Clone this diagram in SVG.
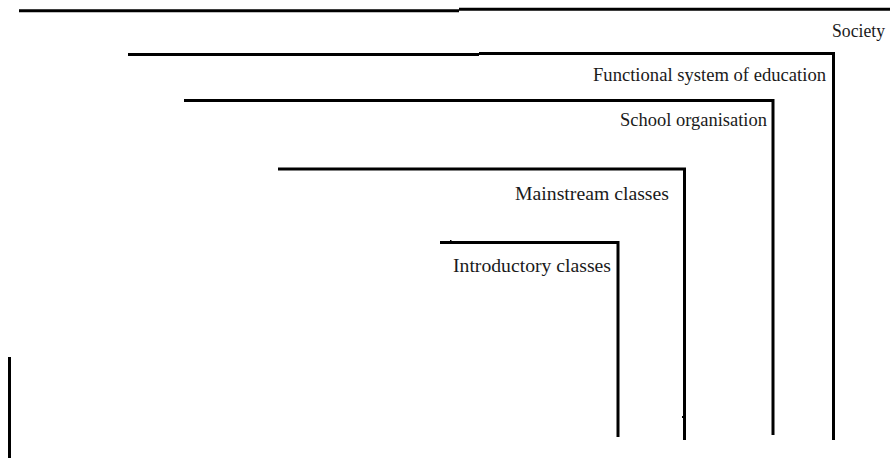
<svg xmlns="http://www.w3.org/2000/svg" width="890" height="458" viewBox="0 0 890 458">
<style>
.ln{fill:none;stroke:#000;stroke-width:3;stroke-linecap:butt;stroke-linejoin:miter}
.lb{font-family:"Liberation Serif","DejaVu Serif",serif;font-size:18.5px;fill:#1a1a1a;text-anchor:end}
</style>
<rect width="890" height="458" fill="#fff"/>
<g id="society">
<path class="ln" d="M19 10.8H459M459 9.3H890"/>
<text class="lb" x="885" y="37" textLength="53" lengthAdjust="spacingAndGlyphs">Society</text>
</g>
<g id="functional-system">
<path class="ln" d="M128 54.5H479M479 53.5H833.5V440"/>
<text class="lb" x="826" y="81" textLength="233" lengthAdjust="spacingAndGlyphs">Functional system of education</text>
</g>
<g id="school-organisation">
<path class="ln" d="M184 100.5H773V435"/>
<text class="lb" x="767" y="126" textLength="147" lengthAdjust="spacingAndGlyphs">School organisation</text>
</g>
<g id="mainstream-classes">
<path class="ln" d="M278 169H684.5V440"/>
<path d="M682 416h2v2h-2z" fill="#000"/>
<text class="lb" x="669" y="200" textLength="154" lengthAdjust="spacingAndGlyphs">Mainstream classes</text>
</g>
<g id="introductory-classes">
<path class="ln" d="M440 242.5H618V437"/>
<path d="M450 240h1.5v2h-1.5z" fill="#000"/>
<text class="lb" x="611" y="272" textLength="158" lengthAdjust="spacingAndGlyphs">Introductory classes</text>
</g>
<g id="connectors">
<path class="ln" d="M9.5 357V458"/>
</g>
</svg>
